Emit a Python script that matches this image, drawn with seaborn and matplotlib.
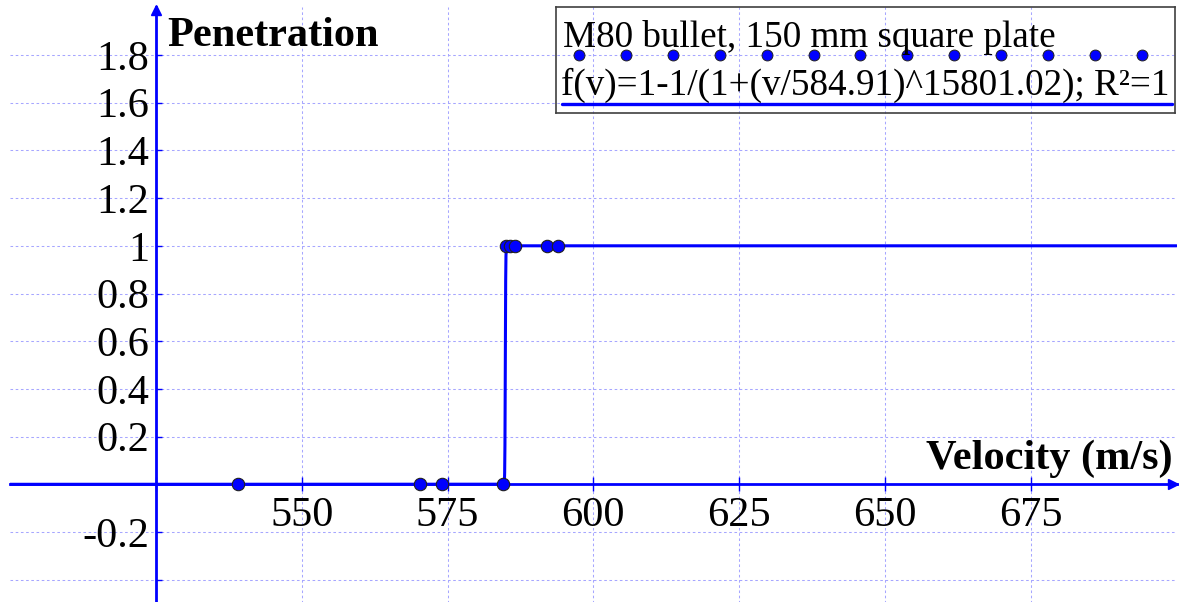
import numpy as np
import pandas as pd
import seaborn as sns
import matplotlib.pyplot as plt

# DATOS
# ----------------------------------------
# disparos sin penetracion (0) y con penetracion (1)
vel_no_pen = [539.1, 570.2, 574.0, 584.5]
pen_no = [0, 0, 0, 0]
vel_pen = [585.1, 585.8, 586.6, 592.0, 594.0]
pen_si = [1, 1, 1, 1, 1]

# parametros del ajuste que da la leyenda
v50 = 584.91
expo = 15801.02

x_ticks = [525, 550, 575, 600, 625, 650, 675]
x_labels = ["", "550", "575", "600", "625", "650", "675"]
y_ticks = [-0.4, -0.2, 0, 0.2, 0.4, 0.6, 0.8, 1, 1.2, 1.4, 1.6, 1.8]
y_labels = ["", "-0.2", "", "0.2", "0.4", "0.6", "0.8", "1", "1.2", "1.4", "1.6", "1.8"]

titulo = "M80 bullet, 150 mm square plate"
etiqueta_ajuste = "f(v)=1-1/(1+(v/584.91)^15801.02); R²=1"

# ESTILO
# ----------------------------------------
sns.set_theme(style="white")
plt.rcParams["font.family"] = ["Liberation Serif", "DejaVu Serif"]
plt.rcParams["axes.unicode_minus"] = False

azul = "#0000ff"
W, H = 1180, 602

fig = plt.figure(figsize=(W / 100, H / 100), dpi=100)
fig.patch.set_facecolor("white")
ax = fig.add_axes([10.1 / W, -1.55 / H, 1166.4 / W, 596.25 / H])
ax.set_facecolor("white")

# curva del ajuste f(v)=1-1/(1+(v/v50)^expo), escrita con tanh para no desbordar
v = np.linspace(500, 700, 8001)
f = 0.5 * (1 + np.tanh(0.5 * expo * np.log(v / v50)))
df_fit = pd.DataFrame({"v": v, "f": f})
sns.lineplot(data=df_fit, x="v", y="f", color=azul, lw=2.2, ax=ax,
             estimator=None, sort=False, zorder=2)

df_pts = pd.DataFrame({"v": vel_no_pen + vel_pen, "p": pen_no + pen_si})
sns.scatterplot(data=df_pts, x="v", y="p", color=azul, edgecolor="#202020",
                linewidth=0.8, s=80, ax=ax, zorder=3, clip_on=False)

ax.set_xlim(500, 700)
ax.set_ylim(-0.5, 2.0)

# ejes cruzados en (525, 0)
for s in ["top", "right"]:
    ax.spines[s].set_visible(False)
ax.spines["left"].set_position(("data", 525))
ax.spines["bottom"].set_position(("data", 0))
for s in ["left", "bottom"]:
    ax.spines[s].set_color(azul)
    ax.spines[s].set_linewidth(2)
    ax.spines[s].set_zorder(2.5)

ax.set_xticks(x_ticks)
ax.set_xticklabels(x_labels)
ax.set_yticks(y_ticks)
ax.set_yticklabels(y_labels)
ax.tick_params(axis="x", bottom=True, direction="inout", length=9.4, width=1,
               color=azul, labelsize=30.5, pad=4, labelcolor="black")
ax.tick_params(axis="y", left=True, direction="in", length=4.5, width=1,
               color=azul, labelsize=30.5, pad=5, labelcolor="black")

ax.grid(True, color="#a6a6ff", linestyle=(0, (2.5, 2.5)), linewidth=0.75)
ax.set_axisbelow(True)

ax.set_xlabel("Velocity (m/s)", fontsize=30.5, fontweight="bold", color="black",
              ha="right", va="baseline")
ax.xaxis.set_label_coords(0.997, 0.2257)
ax.set_ylabel("Penetration", rotation=0, fontsize=30.5, fontweight="bold",
              color="black", ha="left", va="baseline")
ax.yaxis.set_label_coords(0.1345, 0.9356)

# flechas al final de los ejes
ax.plot(0.9966, 0, ">", color=azul, ms=7, transform=ax.get_yaxis_transform(), clip_on=False)
ax.plot(525, 0.995, "^", color=azul, ms=7, transform=ax.get_xaxis_transform(), clip_on=False)

# LEYENDA (caja transparente con muestras debajo del texto)
# ----------------------------------------
leg = fig.add_axes([556 / W, (H - 113.3) / H, 619 / W, 106 / H])
leg.set_xlim(0, 619)
leg.set_ylim(106, 0)
leg.set_facecolor("none")
leg.set_xticks([])
leg.set_yticks([])
for s in leg.spines.values():
    s.set_visible(True)
    s.set_color("#404040")
    s.set_linewidth(1.2)
leg.text(7.3, 39.4, titulo, fontsize=26.7, va="baseline", color="black")
leg.text(5, 87.7, etiqueta_ajuste, fontsize=26.7, va="baseline", color="black")
leg.plot(np.linspace(23.3, 585.5, 13), [47.7] * 13, "o", ms=7.8, color=azul,
         mec="#202020", mew=0.7)
leg.plot([5.7, 615.7], [97, 97], color=azul, lw=2.4)

fig.savefig("out.png", dpi=100)
